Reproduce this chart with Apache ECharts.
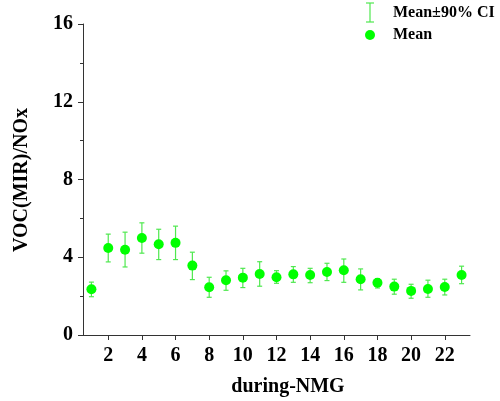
<!DOCTYPE html>
<html><head><meta charset="utf-8">
<script src="https://cdn.jsdelivr.net/npm/echarts@6/dist/echarts.min.js"></script>
<style>html,body{margin:0;padding:0;background:#fff}#c{width:500px;height:401px}</style>
</head><body><div id="c"></div>
<script>
const hours = [1,2,3,4,5,6,7,8,9,10,11,12,13,14,15,16,17,18,19,20,21,22,23];
const meanValues = [2.35,4.48,4.39,4.99,4.67,4.74,3.57,2.46,2.82,2.95,3.14,2.97,3.12,3.09,3.24,3.33,2.87,2.69,2.49,2.27,2.37,2.47,3.09];
const ciLow = [1.97,3.76,3.50,4.21,3.88,3.88,2.85,1.94,2.30,2.44,2.51,2.66,2.71,2.69,2.80,2.71,2.32,2.42,2.10,1.89,1.94,2.06,2.64];
const ciHigh = [2.72,5.19,5.29,5.77,5.44,5.60,4.26,2.97,3.30,3.43,3.77,3.31,3.52,3.43,3.69,3.91,3.40,2.90,2.87,2.61,2.82,2.87,3.54];
const xTickLabels = [2,4,6,8,10,12,14,16,18,20,22];

const FONT = '"Liberation Serif", "Times New Roman", serif';
const markerColor = '#00ff00';
const barColor = '#4fe84f';
const axisColor = '#333';

const chart = echarts.init(document.getElementById('c'), null, {renderer:'canvas'});
chart.setOption({
  animation:false,
  backgroundColor:'#fff',
  grid:{left:83,right:30,top:24,bottom:66,containLabel:false},
  xAxis:{
    type:'value',min:0.5,max:23.5,
    axisLine:{show:true,onZero:false,lineStyle:{color:axisColor,width:1}},
    axisTick:{show:true,length:5,inside:false,customValues:xTickLabels,lineStyle:{color:axisColor}},
    axisLabel:{customValues:xTickLabels,margin:11,color:'#000',fontFamily:FONT,fontWeight:'bold',fontSize:20},
    splitLine:{show:false}
  },
  yAxis:{
    type:'value',min:0,max:16,interval:4,
    axisLine:{show:true,lineStyle:{color:axisColor,width:1}},
    axisTick:{show:true,length:5,lineStyle:{color:axisColor}},
    minorTick:{show:true,splitNumber:2,length:3,lineStyle:{color:axisColor}},
    axisLabel:{margin:10,color:'#000',fontFamily:FONT,fontWeight:'bold',fontSize:20},
    splitLine:{show:false}
  },
  series:[
    {
      type:'custom',name:'Mean±90% CI',
      data:hours.map((h,i)=>[h,ciLow[i],ciHigh[i]]),
      encode:{x:0,y:[1,2]},
      z:2,
      renderItem:function(params,api){
        const lo = api.coord([api.value(0),api.value(1)]);
        const hi = api.coord([api.value(0),api.value(2)]);
        const w = 2.5;
        const st = {stroke:barColor,lineWidth:1.2};
        return {type:'group',children:[
          {type:'line',shape:{x1:lo[0],y1:lo[1],x2:hi[0],y2:hi[1]},style:st},
          {type:'line',shape:{x1:lo[0]-w,y1:lo[1],x2:lo[0]+w,y2:lo[1]},style:st},
          {type:'line',shape:{x1:hi[0]-w,y1:hi[1],x2:hi[0]+w,y2:hi[1]},style:st}
        ]};
      }
    },
    {
      type:'scatter',name:'Mean',z:3,
      data:hours.map((h,i)=>[h,meanValues[i]]),
      symbol:'circle',symbolSize:10,
      itemStyle:{color:markerColor,opacity:1}
    }
  ],
  graphic:[
    {type:'text',x:22,y:180,rotation:Math.PI/2,
     style:{text:'VOC(MIR)/NOx',fontFamily:FONT,fontWeight:'bold',fontSize:20,fill:'#000',align:'center',verticalAlign:'middle'}},
    {type:'text',style:{text:'during-NMG',x:288,y:387,fontFamily:FONT,fontWeight:'bold',fontSize:20,fill:'#000',align:'center',verticalAlign:'middle'}},
    {type:'line',shape:{x1:370,y1:3,x2:370,y2:22},style:{stroke:barColor,lineWidth:1.2}},
    {type:'line',shape:{x1:366,y1:3,x2:374,y2:3},style:{stroke:barColor,lineWidth:1.2}},
    {type:'line',shape:{x1:366,y1:22,x2:374,y2:22},style:{stroke:barColor,lineWidth:1.2}},
    {type:'text',style:{text:'Mean±90% CI',x:393,y:13,fontFamily:FONT,fontWeight:'bold',fontSize:16,fill:'#000',align:'left',verticalAlign:'middle'}},
    {type:'circle',shape:{cx:370,cy:35,r:5},style:{fill:markerColor}},
    {type:'text',style:{text:'Mean',x:393,y:35,fontFamily:FONT,fontWeight:'bold',fontSize:16,fill:'#000',align:'left',verticalAlign:'middle'}}
  ]
});
</script></body></html>
